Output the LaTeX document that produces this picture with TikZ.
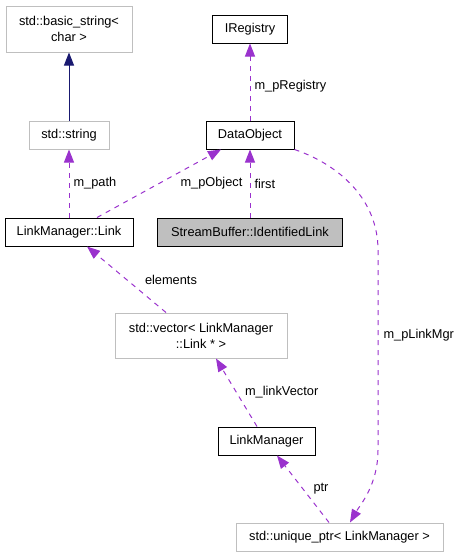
\documentclass[tikz,border=0pt]{standalone}
\usepackage{fontspec}
\setmainfont{Liberation Sans}
\usetikzlibrary{positioning,arrows.meta}
\definecolor{usecol}{HTML}{9A32CD}
\definecolor{inhcol}{HTML}{191970}
\definecolor{extcol}{HTML}{BFBFBF}
\definecolor{curfill}{HTML}{BFBFBF}
\tikzset{
	cls/.style={draw=black, line width=1pt, fill=white, minimum height=28pt, inner sep=2pt, font=\fontsize{12.8}{16}\selectfont, align=center},
	ext/.style={cls, draw=extcol},
	cur/.style={cls, fill=curfill},
	inh/.style={draw=inhcol, line width=1pt, -{Triangle[length=13pt,width=10pt,fill=inhcol]}},
	use/.style={draw=usecol, line width=1pt, dash pattern=on 5pt off 5pt, -{Triangle[length=13pt,width=10pt,fill=usecol]}},
	lbl/.style={font=\fontsize{12.8}{16}\selectfont, inner sep=0pt},
}
\begin{document}
\begin{tikzpicture}[x=1pt,y=-1pt]
		\useasboundingbox (0,0) rectangle (460,557);
		\node[ext, minimum width=126pt, minimum height=46pt] (bstr) at (69,29) {std::basic\_string<\\char >};
		\node[ext, minimum width=80pt, below=68pt of bstr] (str) {std::string};
		\node[cls, minimum width=128pt, below=68pt of str] (link) {LinkManager::Link};
		\node[cls, minimum width=88pt, right=96pt of str] (dobj) {DataObject};
		\node[cls, minimum width=75pt, above=77pt of dobj] (ireg) {IRegistry};
		\node[cur, minimum width=185pt, below=68pt of dobj] (idlink) {StreamBuffer::IdentifiedLink};
		\node[ext, minimum width=172pt, minimum height=45pt] (vec) at (201,335.5) {std::vector< LinkManager\\::Link * >};
		\node[cls, minimum width=97pt] (lmgr) at (266.5,441) {LinkManager};
		\node[ext, minimum width=207pt] (uptr) at (339.5,537) {std::unique\_ptr< LinkManager >};
		
		\draw[inh] (str.north) -- (bstr.south);
		\draw[use] (dobj.north) -- node[lbl, right=4pt, pos=0.45] (lreg) {m\_pRegistry} (ireg.south);
		\draw[use] (link.north) -- node[lbl, right=4pt] (lpath) {m\_path} (str.south);
		\draw[use] ([xshift=28pt]link.north) -- node[lbl, right=21pt] (lobj) {m\_pObject} ([xshift=-29pt]dobj.south);
		\draw[use] (dobj.south |- idlink.north) -- node[lbl, right=4pt] (lfirst) {first} (dobj.south);
		\draw[use] ([xshift=-35pt]vec.north) -- node[lbl, right=18pt] (lelem) {elements} ([xshift=18pt]link.south);
		\draw[use] ([xshift=-9.5pt]lmgr.north) -- node[lbl, right=8pt] (lvec) {m\_linkVector} ([xshift=15pt]vec.south);
		\draw[use] ([xshift=-10.5pt]uptr.north) -- node[lbl, right=10pt] (lptr) {ptr} ([xshift=10.5pt]lmgr.south);
		\draw[use] (dobj.south east) .. controls (340,165) and (378,200) .. (378,250)
			-- node[lbl, right=5pt, pos=0.425] (lmgrl) {m\_pLinkMgr} (378,450)
			.. controls (378,485) and (360,505) .. ([xshift=10.5pt]uptr.north);
\end{tikzpicture}
\end{document}
